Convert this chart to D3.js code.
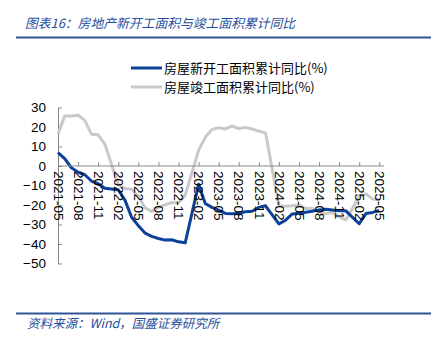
<!DOCTYPE html>
<html>
<head>
<meta charset="utf-8">
<script src="https://cdn.jsdelivr.net/npm/d3@7"></script>
<style>
  html, body { margin: 0; padding: 0; background: #fff; }
  svg { display: block; }
</style>
</head>
<body>
<div id="chart"></div>
<script>
// Monthly categories, 2021-05 .. 2025-05 (January values are not published: null)
const months = [
  "2021-05","2021-06","2021-07","2021-08","2021-09","2021-10","2021-11","2021-12",
  "2022-01","2022-02","2022-03","2022-04","2022-05","2022-06","2022-07","2022-08","2022-09","2022-10","2022-11","2022-12",
  "2023-01","2023-02","2023-03","2023-04","2023-05","2023-06","2023-07","2023-08","2023-09","2023-10","2023-11","2023-12",
  "2024-01","2024-02","2024-03","2024-04","2024-05","2024-06","2024-07","2024-08","2024-09","2024-10","2024-11","2024-12",
  "2025-01","2025-02","2025-03","2025-04","2025-05"
];

// 房屋新开工面积累计同比(%)
const newStarts = [
  6.9, 3.8, -0.9, -3.2, -4.5, -7.7, -9.1, -11.4,
  null, -12.2, -17.5, -26.3, -30.6, -34.4, -36.1, -37.2, -38.0, -37.8, -38.9, -39.4,
  null, -9.4, -19.2, -21.2, -22.6, -24.3, -24.5, -24.4, -23.4, -23.2, -21.2, -20.4,
  null, -29.7, -27.8, -24.6, -24.2, -23.7, -23.2, -22.5, -22.2, -22.6, -23.0, -23.0,
  null, -29.6, -24.4, -23.8, -22.8
];

// 房屋竣工面积累计同比(%)
const completions = [
  16.4, 25.7, 25.7, 26.0, 23.4, 16.3, 16.0, 11.2,
  null, -9.6, -11.5, -11.9, -15.3, -21.5, -23.3, -21.1, -19.9, -18.7, -19.0, -15.0,
  null, 8.0, 14.7, 18.8, 19.6, 19.0, 20.5, 19.2, 19.8, 19.0, 17.9, 17.0,
  null, -20.2, -20.7, -20.4, -20.1, -21.8, -21.8, -23.6, -24.4, -23.9, -26.0, -27.7,
  null, -15.6, -14.3, -16.9, -17.3
];

const yTicks = [30, 20, 10, 0, -10, -20, -30, -40, -50];

const seriesNames = ["房屋新开工面积累计同比(%)", "房屋竣工面积累计同比(%)"];
const seriesColors = ["#0b4199", "#c9c9c9"];

const W = 443, H = 346;
const blueText = "#1f4e9c";
const cjk = "'Noto Sans CJK SC', 'Noto Sans', sans-serif";
const latin = "'Liberation Sans', Arial, sans-serif";

const svg = d3.select("#chart").append("svg")
  .attr("width", W).attr("height", H);

// Header
svg.append("text")
  .attr("x", 25).attr("y", 28)
  .attr("fill", blueText)
  .attr("font-family", cjk)
  .attr("font-style", "italic")
  .attr("font-size", 12.8)
  .text("图表16：房地产新开工面积与竣工面积累计同比");

svg.append("line")
  .attr("x1", 16).attr("x2", 431).attr("y1", 37.5).attr("y2", 37.5)
  .attr("stroke", "#2f5597").attr("stroke-width", 2);

// Footer
svg.append("line")
  .attr("x1", 16).attr("x2", 431).attr("y1", 313.5).attr("y2", 313.5)
  .attr("stroke", "#2f5597").attr("stroke-width", 2);

svg.append("text")
  .attr("x", 27).attr("y", 328)
  .attr("fill", blueText)
  .attr("font-family", cjk)
  .attr("font-style", "italic")
  .attr("font-size", 12.5)
  .text("资料来源：Wind，国盛证券研究所");

// Scales
const x = d3.scaleLinear().domain([0, months.length - 1]).range([58, 379.3]);
const y = d3.scaleLinear().domain([-50, 30]).range([263.5, 107.5]);

// Y axis
const yAxis = svg.append("g")
  .attr("transform", `translate(${x(0)},0)`)
  .call(d3.axisLeft(y).tickValues(yTicks).tickSize(-4).tickPadding(12).tickSizeOuter(0));
yAxis.select(".domain").attr("stroke", "#888");
yAxis.selectAll(".tick line").attr("stroke", "#888");
yAxis.selectAll("text")
  .attr("font-family", latin).attr("font-size", 13.5).attr("fill", "#000");

// Series lines (January gaps are bridged)
const line = d3.line()
  .x(d => x(d.i))
  .y(d => y(d.v));

[completions, newStarts].forEach((vals, k) => {
  const pts = vals.map((v, i) => ({ i, v })).filter(d => d.v !== null);
  svg.append("path")
    .datum(pts)
    .attr("fill", "none")
    .attr("stroke", k === 0 ? seriesColors[1] : seriesColors[0])
    .attr("stroke-width", 3)
    .attr("stroke-linejoin", "round")
    .attr("d", line);
});

// X axis on the zero line
const tickIdx = d3.range(0, months.length, 3);
const xAxis = svg.append("g")
  .attr("transform", `translate(0,${y(0)})`)
  .call(d3.axisBottom(x).tickValues(tickIdx).tickFormat(i => months[i]).tickSize(-4).tickSizeOuter(0));
xAxis.select(".domain").remove();
xAxis.insert("line", ":first-child")
  .attr("x1", x(0)).attr("x2", 384).attr("y1", 0).attr("y2", 0)
  .attr("stroke", "#888");
xAxis.selectAll(".tick line").attr("stroke", "#888");
xAxis.selectAll("text")
  .attr("font-family", latin).attr("font-size", 13.5).attr("fill", "#000")
  .attr("transform", "rotate(90)")
  .attr("x", 5).attr("y", 0).attr("dy", "0.35em")
  .attr("text-anchor", "start");

// Legend
const legend = svg.append("g");
seriesNames.forEach((name, k) => {
  const ly = 68 + k * 19;
  legend.append("line")
    .attr("x1", 131).attr("x2", 162).attr("y1", ly).attr("y2", ly)
    .attr("stroke", seriesColors[k]).attr("stroke-width", 3);
  legend.append("text")
    .attr("x", 164).attr("y", ly).attr("dy", "0.35em")
    .attr("font-family", cjk).attr("font-size", 13)
    .attr("fill", "#000")
    .text(name);
});
</script>
</body>
</html>
